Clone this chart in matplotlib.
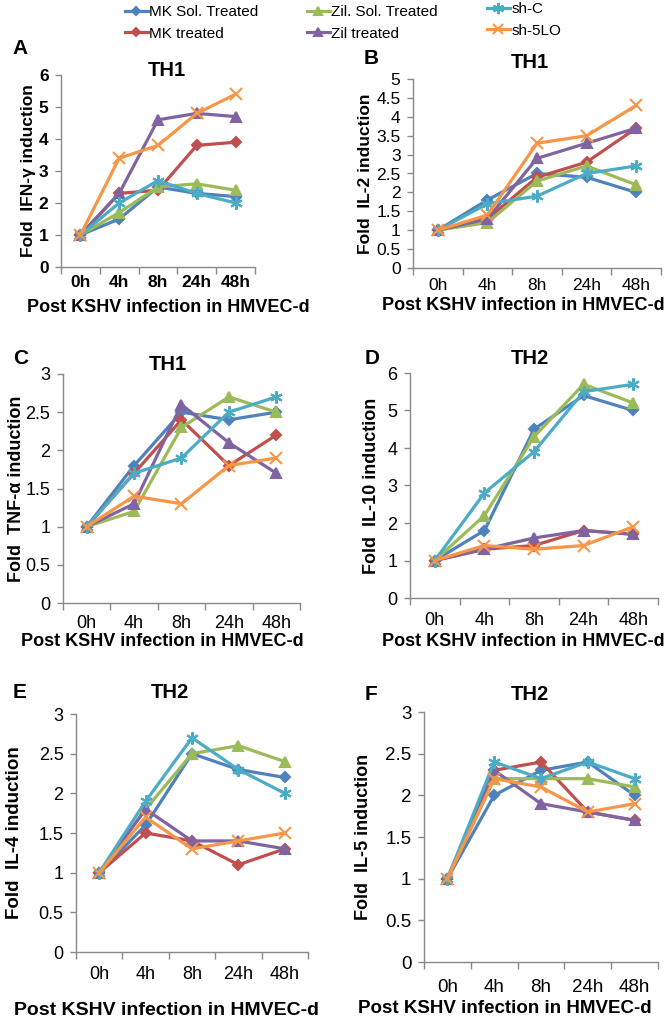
import matplotlib
matplotlib.use("Agg")
import matplotlib.pyplot as plt
import numpy as np

plt.rcParams['font.family'] = ['Liberation Sans', 'DejaVu Sans']

timepoints = ["0h", "4h", "8h", "24h", "48h"]
series_names = ["MK Sol. Treated", "MK treated", "Zil. Sol. Treated", "Zil treated", "sh-C", "sh-5LO"]

# Panel A: IFN-gamma
ifn_mk_sol = [1, 1.5, 2.5, 2.3, 2.2]
ifn_mk = [1, 2.3, 2.4, 3.8, 3.9]
ifn_zil_sol = [1, 1.7, 2.5, 2.6, 2.4]
ifn_zil = [1, 2.3, 4.6, 4.8, 4.7]
ifn_shc = [1, 2.0, 2.7, 2.3, 2.0]
ifn_sh5lo = [1, 3.4, 3.8, 4.8, 5.4]

# Panel B: IL-2
il2_mk_sol = [1, 1.8, 2.5, 2.4, 2.0]
il2_mk = [1, 1.3, 2.4, 2.8, 3.7]
il2_zil_sol = [1, 1.2, 2.3, 2.7, 2.2]
il2_zil = [1, 1.3, 2.9, 3.3, 3.7]
il2_shc = [1, 1.7, 1.9, 2.5, 2.7]
il2_sh5lo = [1, 1.4, 3.3, 3.5, 4.3]

# Panel C: TNF-alpha
tnf_mk_sol = [1, 1.8, 2.5, 2.4, 2.5]
tnf_mk = [1, 1.7, 2.4, 1.8, 2.2]
tnf_zil_sol = [1, 1.2, 2.3, 2.7, 2.5]
tnf_zil = [1, 1.3, 2.6, 2.1, 1.7]
tnf_shc = [1, 1.7, 1.9, 2.5, 2.7]
tnf_sh5lo = [1, 1.4, 1.3, 1.8, 1.9]

# Panel D: IL-10
il10_mk_sol = [1, 1.8, 4.5, 5.4, 5.0]
il10_mk = [1, 1.3, 1.4, 1.8, 1.7]
il10_zil_sol = [1, 2.2, 4.3, 5.7, 5.2]
il10_zil = [1, 1.3, 1.6, 1.8, 1.7]
il10_shc = [1, 2.8, 3.9, 5.5, 5.7]
il10_sh5lo = [1, 1.4, 1.3, 1.4, 1.9]

# Panel E: IL-4
il4_mk_sol = [1, 1.6, 2.5, 2.3, 2.2]
il4_mk = [1, 1.5, 1.4, 1.1, 1.3]
il4_zil_sol = [1, 1.8, 2.5, 2.6, 2.4]
il4_zil = [1, 1.8, 1.4, 1.4, 1.3]
il4_shc = [1, 1.9, 2.7, 2.3, 2.0]
il4_sh5lo = [1, 1.7, 1.3, 1.4, 1.5]

# Panel F: IL-5
il5_mk_sol = [1, 2.0, 2.3, 2.4, 2.0]
il5_mk = [1, 2.3, 2.4, 1.8, 1.7]
il5_zil_sol = [1, 2.2, 2.2, 2.2, 2.1]
il5_zil = [1, 2.3, 1.9, 1.8, 1.7]
il5_shc = [1, 2.4, 2.2, 2.4, 2.2]
il5_sh5lo = [1, 2.2, 2.1, 1.8, 1.9]

colors = ["#4F81BD", "#C0504D", "#9BBB59", "#8064A2", "#4BACC6", "#F79646"]
markers = ["D", "D", "^", "^", (6, 2, 0), "x"]
msizes = [5, 5, 7, 7, 9, 8]

W, H = 666, 1021
fig = plt.figure(figsize=(W / 100, H / 100), dpi=100)

def px_axes(x0, x1, ytop, ybot):
    return fig.add_axes([x0 / W, 1 - ybot / H, (x1 - x0) / W, (ybot - ytop) / H])

xlab = "Post KSHV infection in HMVEC-d"
panels = [
    dict(letter="A", title="TH1", ylabel="Fold  IFN-\u03b3 induction", ymax=6, ystep=1,
         data=[ifn_mk_sol, ifn_mk, ifn_zil_sol, ifn_zil, ifn_shc, ifn_sh5lo],
         box=(61, 255, 75, 267), lpos=(12, 48), tpos=(167, 70), ylx=28,
         xl=(168, 308, "center"), tfs=12.5, tbold=True, xpad=6, yfs=12.5, xfs=13),
    dict(letter="B", title="TH1", ylabel="Fold  IL-2 induction", ymax=5, ystep=0.5,
         data=[il2_mk_sol, il2_mk, il2_zil_sol, il2_zil, il2_shc, il2_sh5lo],
         box=(413, 661, 79, 268), lpos=(364, 58), tpos=(530, 62), ylx=365,
         xl=(665, 306, "right"), tfs=12.5, tbold=False, xpad=7, yfs=12.5, xfs=13),
    dict(letter="C", title="TH1", ylabel="Fold  TNF-\u03b1 induction", ymax=3, ystep=0.5,
         data=[tnf_mk_sol, tnf_mk, tnf_zil_sol, tnf_zil, tnf_shc, tnf_sh5lo],
         box=(63, 300, 374, 603), lpos=(13, 358), tpos=(168, 365), ylx=17,
         xl=(162, 641, "center"), tfs=13, tbold=False, xpad=9, yfs=13, xfs=13),
    dict(letter="D", title="TH2", ylabel="Fold  IL-10 induction", ymax=6, ystep=1,
         data=[il10_mk_sol, il10_mk, il10_zil_sol, il10_zil, il10_shc, il10_sh5lo],
         box=(410, 658, 373, 598), lpos=(365, 358), tpos=(530, 358), ylx=371,
         xl=(665, 641, "right"), tfs=13, tbold=False, xpad=10, yfs=13, xfs=13),
    dict(letter="E", title="TH2", ylabel="Fold  IL-4 induction", ymax=3, ystep=0.5,
         data=[il4_mk_sol, il4_mk, il4_zil_sol, il4_zil, il4_shc, il4_sh5lo],
         box=(76, 308, 714, 952), lpos=(13, 693), tpos=(170, 693), ylx=15,
         xl=(166, 1010, "center"), tfs=13, tbold=False, xpad=10, yfs=13.5, xfs=14),
    dict(letter="F", title="TH2", ylabel="Fold  IL-5 induction", ymax=3, ystep=0.5,
         data=[il5_mk_sol, il5_mk, il5_zil_sol, il5_zil, il5_shc, il5_sh5lo],
         box=(424, 658, 712, 962), lpos=(365, 695), tpos=(530, 695), ylx=363,
         xl=(505, 1008, "center"), tfs=13.5, tbold=False, xpad=12, yfs=13, xfs=13.5),
]

x = np.arange(len(timepoints))
handles = []
for pi, p in enumerate(panels):
    x0, x1, yt, yb = p["box"]
    ax = px_axes(x0, x1, yt, yb)
    for i, ys in enumerate(p["data"]):
        h, = ax.plot(x, ys, color=colors[i], lw=2.3, marker=markers[i], ms=msizes[i],
                     mec=colors[i], mfc=colors[i], mew=1.5, label=series_names[i], clip_on=False)
        if pi == 0:
            handles.append(h)
    ax.set_xlim(-0.5, len(timepoints) - 0.5)
    ax.set_ylim(0, p["ymax"])
    fw = "bold" if p["tbold"] else "normal"
    yt_vals = np.arange(0, p["ymax"] + 1e-9, p["ystep"])
    ax.set_yticks(yt_vals)
    ax.set_yticklabels([("%g" % v) for v in yt_vals], fontsize=p["tfs"], fontweight=fw)
    ax.set_xticks(x)
    ax.set_xticklabels(timepoints, fontsize=p["tfs"], fontweight=fw)
    ax.set_xticks(np.arange(-0.5, len(timepoints)), minor=True)
    ax.tick_params(axis="x", which="major", length=0, pad=p["xpad"])
    ax.tick_params(axis="x", which="minor", length=5, color="#888888", width=1)
    ax.tick_params(axis="y", length=4, color="#888888", width=1, pad=5)
    for s in ["top", "right"]:
        ax.spines[s].set_visible(False)
    for s in ["left", "bottom"]:
        ax.spines[s].set_color("#888888")
        ax.spines[s].set_linewidth(1)
    fig.text(p["lpos"][0] / W, 1 - p["lpos"][1] / H, p["letter"], fontsize=15,
             fontweight="bold", ha="left", va="center")
    fig.text(p["tpos"][0] / W, 1 - p["tpos"][1] / H, p["title"], fontsize=14.5,
             fontweight="bold", ha="center", va="center")
    fig.text(p["ylx"] / W, 1 - ((yt + yb) / 2) / H, p["ylabel"], fontsize=p["yfs"],
             fontweight="bold", rotation=90, ha="center", va="center")
    fig.text(p["xl"][0] / W, 1 - p["xl"][1] / H, xlab,
             fontsize=p["xfs"], fontweight="bold", ha=p["xl"][2], va="center")

legend_cols = [(0, 2, 125, 5), (2, 4, 307, 5), (4, 6, 487, 2)]
for a, b, lx, ly in legend_cols:
    leg = fig.legend(handles=handles[a:b], loc="upper left",
                     bbox_to_anchor=(lx / W, 1 - ly / H), ncol=1,
                     frameon=False, fontsize=11, handlelength=1.5, handletextpad=0.1,
                     labelspacing=0.5, borderaxespad=0.0, borderpad=0.0, markerscale=0.9)

fig.savefig("out.png", dpi=100)
